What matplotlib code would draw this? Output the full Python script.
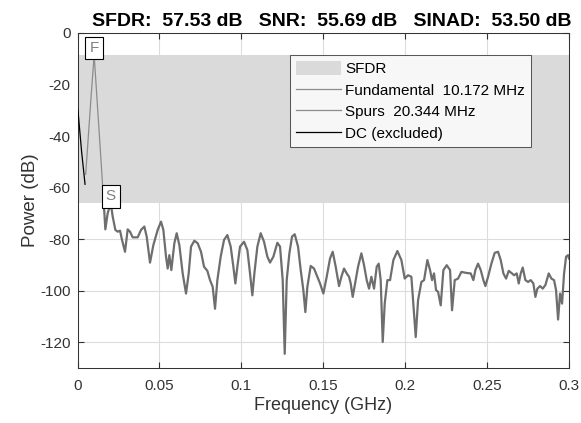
import matplotlib
matplotlib.use('Agg')
import matplotlib.pyplot as plt
import numpy as np

plt.rcParams['font.family'] = ['Liberation Sans', 'DejaVu Sans']
plt.rcParams['axes.unicode_minus'] = False

# readings (GHz, dB)
dc_freq = [0.0, 0.0004, 0.0025, 0.0046]
dc_power = [-29.2, -31.0, -46.0, -58.7]

fund_freq = [0.0050, 0.0070, 0.0084, 0.01017, 0.0117, 0.0137, 0.0162]
fund_power = [-54.8, -36.6, -23.7, -8.6, -23.7, -43.1, -67.8]

spur_freq = [
    0.01620, 0.01699, 0.01842, 0.02034, 0.02147, 0.02310, 0.02452, 0.02595, 0.02717, 0.02900,
    0.03063, 0.03205, 0.03368, 0.03673, 0.03877, 0.04080, 0.04223, 0.04426, 0.04630, 0.04894,
    0.05098, 0.05240, 0.05403, 0.05505, 0.05606, 0.05728, 0.05911, 0.06054, 0.06217, 0.06420,
    0.06624, 0.06787, 0.06929, 0.07133, 0.07336, 0.07540, 0.07723, 0.07926, 0.08089, 0.08252,
    0.08394, 0.08537, 0.08740, 0.08944, 0.09147, 0.09351, 0.09514, 0.09636, 0.09758, 0.09921,
    0.10165, 0.10368, 0.10531, 0.10673, 0.10796, 0.10979, 0.11182, 0.11386, 0.11589, 0.11752,
    0.11956, 0.12200, 0.12363, 0.12526, 0.12648, 0.12770, 0.12933, 0.13095, 0.13258, 0.13462,
    0.13625, 0.13787, 0.13909, 0.14031, 0.14235, 0.14438, 0.14641, 0.14805, 0.15008, 0.15212,
    0.15415, 0.15578, 0.15761, 0.15965, 0.16107, 0.16270, 0.16433, 0.16575, 0.16677, 0.16799,
    0.16962, 0.17125, 0.17328, 0.17491, 0.17653, 0.17796, 0.17938, 0.18101, 0.18264, 0.18386,
    0.18508, 0.18631, 0.18753, 0.18915, 0.19078, 0.19282, 0.19526, 0.19770, 0.19973, 0.20177,
    0.20380, 0.20543, 0.20645, 0.20788, 0.20991, 0.21154, 0.21357, 0.21520, 0.21642, 0.21764,
    0.21886, 0.22009, 0.22172, 0.22334, 0.22538, 0.22741, 0.22863, 0.23026, 0.23230, 0.23433,
    0.23738, 0.24003, 0.24165, 0.24287, 0.24450, 0.24613, 0.24776, 0.24898, 0.25061, 0.25264,
    0.25468, 0.25672, 0.25834, 0.25997, 0.26160, 0.26323, 0.26485, 0.26648, 0.26811, 0.26933,
    0.27055, 0.27177, 0.27340, 0.27503, 0.27665, 0.27828, 0.27950, 0.28072, 0.28236, 0.28398,
    0.28561, 0.28765, 0.28927, 0.29090, 0.29212, 0.29335, 0.29457, 0.29579, 0.29701, 0.29823,
    0.29945, 0.30000,
]
spur_power = [
    -67.8, -76.2, -69.9, -66.1, -71.2, -76.4, -77.1, -76.7, -80.3, -84.9,
    -76.2, -77.1, -79.3, -79.3, -76.4, -75.1, -79.0, -89.1, -82.3, -76.4,
    -73.2, -76.4, -86.8, -91.4, -86.2, -92.0, -81.6, -77.7, -82.3, -93.3,
    -101.1, -93.3, -82.9, -80.6, -81.6, -84.9, -90.7, -92.3, -95.9, -98.5,
    -107.0, -95.9, -86.8, -80.3, -78.4, -82.9, -90.7, -97.2, -90.7, -82.9,
    -81.0, -84.2, -93.3, -101.8, -93.3, -82.9, -77.7, -81.0, -86.8, -89.1,
    -86.8, -81.4, -82.9, -95.9, -124.5, -95.9, -85.5, -79.0, -78.1, -82.9,
    -92.0, -99.8, -108.3, -98.5, -90.4, -91.4, -94.6, -97.2, -101.1, -94.6,
    -87.5, -84.9, -90.7, -98.2, -94.6, -91.4, -93.3, -94.6, -97.2, -102.4,
    -96.6, -90.7, -85.5, -90.1, -95.9, -99.2, -94.6, -99.2, -90.7, -89.5,
    -95.9, -119.9, -105.0, -95.9, -95.9, -88.1, -84.6, -88.1, -95.3, -94.0,
    -94.6, -108.9, -118.0, -103.7, -96.6, -95.9, -88.1, -92.0, -95.9, -93.3,
    -99.8, -100.4, -105.7, -92.0, -90.1, -92.0, -107.6, -95.9, -95.3, -92.7,
    -93.1, -93.3, -95.9, -92.0, -89.5, -92.0, -95.9, -98.2, -94.6, -89.5,
    -85.3, -84.9, -88.1, -93.3, -95.3, -92.3, -93.1, -94.0, -93.3, -97.2,
    -93.3, -91.0, -95.9, -96.6, -95.9, -97.2, -102.4, -99.2, -98.2, -99.2,
    -97.8, -93.3, -95.3, -95.9, -99.8, -111.2, -101.1, -105.0, -93.3, -86.8,
    -86.2, -87.5,
]

fund_peak = (0.010172, -8.6)
spur_peak = (0.020344, -66.13)
sfdr_db = 57.53
snr_db = 55.69
sinad_db = 53.50

fig = plt.figure(figsize=(5.81, 4.23), dpi=100)
ax = fig.add_axes([0.1334, 0.130, 0.8459, 0.792])

ax.axhspan(spur_peak[1], fund_peak[1], color='#dadada', lw=0, zorder=1, label='SFDR')
ax.plot(fund_freq, fund_power, color='#8c8c8c', lw=0.9, zorder=3,
        label='Fundamental  %.3f MHz' % (fund_peak[0] * 1000))
ax.plot(spur_freq, spur_power, color='#6e6e6e', lw=1.6, zorder=3,
        label='Spurs  %.3f MHz' % (spur_peak[0] * 1000))
ax.plot(dc_freq, dc_power, color='black', lw=0.9, zorder=3, label='DC (excluded)')

box = dict(boxstyle='square,pad=0.27', fc='white', ec='black', lw=0.8)
ax.text(fund_peak[0], fund_peak[1], 'F', ha='center', va='bottom', color='#808080',
        fontsize=11, bbox=box, zorder=4, clip_on=False)
ax.text(spur_peak[0], spur_peak[1], 'S', ha='center', va='bottom', color='#808080',
        fontsize=11, bbox=box, zorder=4)

ax.set_xlim(0, 0.3)
ax.set_ylim(-130, 0)
ax.set_xticks([0, 0.05, 0.1, 0.15, 0.2, 0.25, 0.3])
ax.set_xticklabels(['0', '0.05', '0.1', '0.15', '0.2', '0.25', '0.3'])
ax.set_yticks([-120, -100, -80, -60, -40, -20, 0])
ax.grid(True, color='#dcdcdc', lw=0.8, zorder=0)
ax.set_axisbelow(True)
ax.tick_params(direction='in', length=4, labelsize=11, colors='#333333',
               top=True, right=True)
ax.tick_params(axis='x', pad=8)
ax.tick_params(axis='y', pad=5)
for s in ax.spines.values():
    s.set_color('#333333')
    s.set_linewidth(0.75)

ax.set_xlabel('Frequency (GHz)', fontsize=13, color='#333333', labelpad=3)
ax.set_ylabel('Power (dB)', fontsize=13.5, color='#333333', labelpad=1)
ax.set_title('SFDR:  %.2f dB   SNR:  %.2f dB   SINAD:  %.2f dB' % (sfdr_db, snr_db, sinad_db),
             fontsize=14, fontweight='bold', pad=5, x=0.517)

leg = ax.legend(loc='upper right', bbox_to_anchor=(0.9227, 0.934), borderaxespad=0,
                fontsize=11, frameon=True, fancybox=False, handlelength=2.9,
                handleheight=1.0, labelspacing=0.42, borderpad=0.4, handletextpad=0.3)
leg.get_frame().set_edgecolor('#333333')
leg.get_frame().set_linewidth(0.75)
for h in leg.legend_handles[1:3]:
    h.set_linewidth(0.9)
    h.set_color('#8c8c8c')

fig.savefig('out.png', dpi=100)
